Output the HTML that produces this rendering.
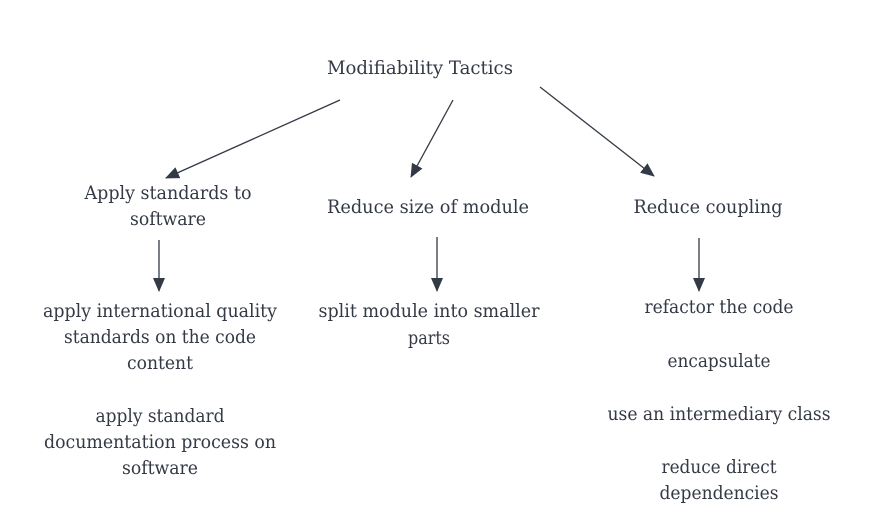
<!DOCTYPE html>
<html><head><style>
body{margin:0;width:880px;height:521px;background:#fff;overflow:hidden}
svg text{font-family:"DejaVu Serif","Liberation Serif",serif;font-size:18.5px;fill:#333a45;text-anchor:middle;dominant-baseline:middle}
</style></head><body>
<svg width="880" height="521" xmlns="http://www.w3.org/2000/svg">
<defs>
<marker id="b" markerWidth="14" markerHeight="14" refX="13" refY="7" orient="auto" markerUnits="userSpaceOnUse"><path d="M0,1 L14,7 L0,13 z" fill="#333a45"/></marker></defs>
<g stroke="#333a45" stroke-width="1.3" fill="none">
<line x1="340" y1="100" x2="166" y2="178" marker-end="url(#b)"/>
<line x1="453" y1="100" x2="411" y2="177" marker-end="url(#b)"/>
<line x1="540" y1="87" x2="654" y2="176" marker-end="url(#b)"/>
<line x1="159" y1="240" x2="159" y2="291" marker-end="url(#b)"/>
<line x1="437" y1="237" x2="437" y2="291" marker-end="url(#b)"/>
<line x1="699" y1="238" x2="699" y2="291" marker-end="url(#b)"/>
</g>
<g>
<text x="420" y="69" textLength="186" lengthAdjust="spacingAndGlyphs">Modifiability Tactics</text>
<text x="168" y="194" textLength="167" lengthAdjust="spacingAndGlyphs">Apply standards to</text>
<text x="168" y="220" textLength="76" lengthAdjust="spacingAndGlyphs">software</text>
<text x="428" y="208" textLength="202" lengthAdjust="spacingAndGlyphs">Reduce size of module</text>
<text x="708" y="208" textLength="149" lengthAdjust="spacingAndGlyphs">Reduce coupling</text>
<text x="160" y="312" textLength="234" lengthAdjust="spacingAndGlyphs">apply international quality</text>
<text x="160" y="338" textLength="192" lengthAdjust="spacingAndGlyphs">standards on the code</text>
<text x="160" y="364" textLength="66" lengthAdjust="spacingAndGlyphs">content</text>
<text x="160" y="417" textLength="129" lengthAdjust="spacingAndGlyphs">apply standard</text>
<text x="160" y="443" textLength="232" lengthAdjust="spacingAndGlyphs">documentation process on</text>
<text x="160" y="469" textLength="76" lengthAdjust="spacingAndGlyphs">software</text>
<text x="429" y="312" textLength="221" lengthAdjust="spacingAndGlyphs">split module into smaller</text>
<text x="429" y="339" textLength="42" lengthAdjust="spacingAndGlyphs">parts</text>
<text x="719" y="308" textLength="149" lengthAdjust="spacingAndGlyphs">refactor the code</text>
<text x="719" y="362" textLength="103" lengthAdjust="spacingAndGlyphs">encapsulate</text>
<text x="719" y="415" textLength="223" lengthAdjust="spacingAndGlyphs">use an intermediary class</text>
<text x="719" y="468" textLength="115" lengthAdjust="spacingAndGlyphs">reduce direct</text>
<text x="719" y="494" textLength="119" lengthAdjust="spacingAndGlyphs">dependencies</text>
</g>
</svg>
</body></html>
